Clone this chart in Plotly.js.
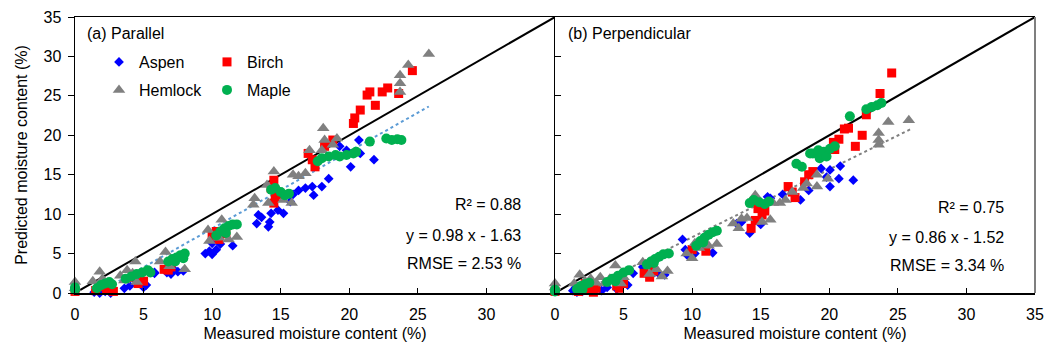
<!DOCTYPE html>
<html>
<head>
<meta charset="utf-8">
<script src="https://cdn.plot.ly/plotly-3.0.1.min.js"></script>
<style>html,body{margin:0;padding:0;background:#fff;}#chart{width:1046px;height:350px;}</style>
</head>
<body>
<div id="chart"></div>
<script>
// ---------- (a) Parallel ----------
const aspenParX = [1.4,1.8,2.2,2.6,1.6,2.4, 3.6,4.0,5.2,5.0,5.8,4.5, 6.7,7.0,7.5,7.9,7.2,5.8, 9.5,9.8,10.0,10.3,10.6,11.5,10.0, 13.37,13.25,14.2,14.1,14.3,15.2,15.7,14.8,13.6, 16.8,17.3,17.4,18.0,18.5,15.9,16.3, 20.7,20.8,20.1,21.8,19.8,19.3];
const aspenParY = [0.1,0.0,0.2,0.0,0.5,0.4, 0.6,0.9,1.0,0.7,2.6,1.5, 2.6,2.4,2.7,2.8,3.0,2.5, 5.0,5.3,4.9,5.5,6.2,6.0,6.3, 9.9,8.8,9.0,8.4,10.1,10.1,11.6,10.5,9.6, 13.3,13.5,12.4,13.5,14.5,12.5,13.0, 19.4,17.7,16.0,16.9,18.1,18.6];

const birchParX = [0, 1.5,1.9,2.3,2.8,2.0, 4.6,5.0,4.3, 6.5,7.0,6.8, 10.0,10.5,11.0,10.3, 14.5,14.3,14.6,14.5,15.0, 17.0,17.3,17.5,18.2,18.8, 20.3,20.4,20.8,21.3,21.5,21.9,22.4,22.8,23.6,24.6];
const birchParY = [0.2, 0.3,0.8,0.5,0.2,1.2, 1.2,1.5,2.0, 3.0,3.3,2.9, 7.2,6.8,7.5,7.8, 14.3,13.3,12.2,11.4,12.5, 17.7,16.9,16.0,18.6,19.4, 21.5,22.2,23.2,25.1,25.5,23.8,25.5,26.0,25.3,28.2];

const hemlockParX = [0,0, 1.8,1.3,2.0,2.5,1.6, 3.3,3.6,3.8,4.4,4.2,4.5, 6.6,6.2,6.9,7.4,8.0, 9.7,10.7,9.8,10.5,11.2,11.8, 13.0,13.1,14.0,14.1,14.5,15.2,15.8,15.9,16.3,16.8, 17.1,18.0,18.1,18.2,19.1,18.8, 23.7,23.7,23.7,24.3,25.8];
const hemlockParY = [1.4,0.6, 2.7,1.5,1.8,1.2,0.9, 2.2,1.6,2.9,4.0,2.5,1.4, 5.2,4.0,3.4,4.4,3.0, 8.0,9.3,6.6,7.0,6.8,7.1, 11.2,12.0,13.7,11.4,15.4,11.8,11.4,15.0,14.8,15.2, 18.1,18.1,20.9,19.4,19.6,18.8, 25.5,26.6,27.6,28.9,30.3];

const mapleParX = [0,0, 1.6,1.9,2.2,2.5,2.7, 3.7,4.1,4.5,4.9,5.3,5.5, 6.8,7.1,7.4,7.7,8.0,7.3,7.9, 10.3,10.6,10.9,11.2,11.5,11.8,11.0, 14.3,14.6,15.0,15.3,15.6, 17.7,18.0,18.5,19.0,19.3,19.8,20.3,20.5, 21.5,22.7,23.1,23.5,23.8];
const mapleParY = [0.7,0.4, 0.6,1.0,1.2,1.4,1.1, 1.8,2.1,2.4,2.6,2.9,2.6, 4.0,4.3,4.5,4.8,5.0,4.0,4.4, 7.3,7.8,8.2,8.5,8.7,8.7,7.6, 13.1,13.3,12.8,12.4,12.6, 16.7,17.1,17.3,17.5,17.3,17.5,17.7,17.9, 19.2,19.6,19.4,19.5,19.4];

// ---------- (b) Perpendicular ----------
const aspenPerX = [1.3,1.5,1.6,2.0, 3.4,3.8,5.3,5.7,4.5, 6.4,7.5,8.0,7.0, 9.3,9.5,9.7,10.2,11.5,10.8, 13.25,14.2,13.6,15.5,15.7,15.0, 17.9,18.5,19.4,20.05,20.8,20.7,21.75,19.8,20.05,16.6];
const aspenPerY = [0.3,0.7,0.1,0.2, 0.3,0.7,1.0,2.5,0.5, 3.3,2.6,2.3,2.2, 6.8,5.5,4.7,5.0,5.1,6.2, 8.8,7.6,9.0,12.2,12.0,8.7, 11.8,13.0,15.8,15.6,16.1,14.5,14.3,14.7,13.5,12.5];

const birchPerX = [0, 1.7,2.0,2.4,2.8,3.0,2.2, 4.5,5.0,4.7, 6.5,6.9,7.2, 10.0,10.5,11.0,10.8, 14.3,14.5,14.8,15.1,14.6,15.3, 17.0,17.3,17.5,18.2,18.5,18.8, 20.3,20.4,20.7,21.1,21.4,21.9,22.4,22.7,23.7,24.55];
const birchPerY = [0.2, 0.2,0.8,0.4,0.1,0.6,1.2, 0.9,1.2,0.6, 2.5,2.0,2.8, 5.5,6.0,5.3,6.4, 8.2,11.6,10.7,9.9,9.2,10.4, 13.5,12.8,12.1,14.1,15.0,15.4, 19.1,18.2,19.5,20.8,20.9,18.6,20.0,22.6,25.3,27.9];

const hemlockPerX = [0,0, 1.8,1.4,2.6,3.0,3.3,2.2, 3.6,4.4,4.0,4.8,5.0, 6.4,6.9,7.4,7.8,8.2, 9.6,10.0,10.5,11.2,11.8,10.2, 13.0,13.4,14.0,14.6,15.1,15.7,13.6, 15.9,16.4,16.8,17.3,18.1,18.35,19.1,19.1,19.9, 23.6,23.6,23.6,24.3,25.8];
const hemlockPerY = [1.2,0.7, 2.3,1.2,1.8,1.3,2.0,1.5, 1.2,3.5,1.8,1.2,2.0, 3.9,2.4,3.0,2.1,2.8, 5.0,4.4,5.7,6.0,6.2,6.3, 8.8,8.2,9.5,12.4,9.0,9.3,9.4, 11.4,11.4,11.8,12.8,13.3,13.9,13.5,15.0,14.5, 18.8,19.4,20.3,21.7,21.9];

const maplePerX = [0,0, 1.6,1.9,2.2,2.5,2.0, 3.8,4.2,4.6,5.0,5.4,4.4, 6.7,7.0,7.3,7.6,7.9,8.3,7.2, 10.3,10.6,10.9,11.2,11.5,11.8,10.8, 14.2,14.5,14.9,15.3,15.6, 17.6,18.0,18.6,18.8,19.2,19.3,19.6,19.8,20.05,20.4, 21.5,22.7,23.1,23.5,23.8];
const maplePerY = [0.4,0.2, 0.5,0.9,1.1,1.3,0.4, 1.4,1.8,2.2,2.6,2.9,1.5, 3.6,4.0,4.3,4.6,4.9,5.0,3.8, 6.0,6.6,7.0,7.4,7.7,7.9,6.4, 11.4,11.8,11.5,11.3,11.6, 16.4,16.0,17.7,17.7,18.1,17.1,17.9,17.3,18.3,18.6, 22.4,23.3,23.6,23.8,24.1];

// reference 1:1 line and fitted trend lines (end points)
const oneToOneX = [0, 35];
const oneToOneY = [0, 35];
const trendParX = [1.66, 25.8];
const trendParY = [0, 23.65];
const trendPerX = [1.77, 25.9];
const trendPerY = [0, 20.75];

const speciesNames = ['Aspen', 'Birch', 'Hemlock', 'Maple'];
const panelLabels = ['(a) Parallel', '(b) Perpendicular'];
const statsPar = ['R² = 0.88', 'y = 0.98 x - 1.63', 'RMSE = 2.53 %'];
const statsPer = ['R² = 0.75', 'y = 0.86 x - 1.52', 'RMSE = 3.34 %'];
const xTitle = 'Measured moisture content (%)';
const yTitle = 'Predicted moisture content (%)';

const FONT = 'Liberation Sans, Arial, sans-serif';
const styles = [
  {symbol: 'diamond', size: 7.5, color: '#0000FF'},
  {symbol: 'square', size: 9, color: '#FF0000'},
  {symbol: 'triangle-up', size: 11, color: '#808080'},
  {symbol: 'circle', size: 10, color: '#00B050'}
];
const parData = [[aspenParX, aspenParY], [birchParX, birchParY], [hemlockParX, hemlockParY], [mapleParX, mapleParY]];
const perData = [[aspenPerX, aspenPerY], [birchPerX, birchPerY], [hemlockPerX, hemlockPerY], [maplePerX, maplePerY]];
const legendIds = ['legend', 'legend', 'legend2', 'legend2'];

const traces = [];
traces.push({x: oneToOneX, y: oneToOneY, xaxis: 'x', yaxis: 'y', mode: 'lines', line: {color: '#000', width: 2}, showlegend: false, hoverinfo: 'skip'});
traces.push({x: oneToOneX, y: oneToOneY, xaxis: 'x2', yaxis: 'y2', mode: 'lines', line: {color: '#000', width: 2}, showlegend: false, hoverinfo: 'skip'});
traces.push({x: trendParX, y: trendParY, xaxis: 'x', yaxis: 'y', mode: 'lines', line: {color: '#5B9BD5', width: 2, dash: 'dot'}, showlegend: false, hoverinfo: 'skip'});
traces.push({x: trendPerX, y: trendPerY, xaxis: 'x2', yaxis: 'y2', mode: 'lines', line: {color: '#808080', width: 2, dash: 'dot'}, showlegend: false, hoverinfo: 'skip'});

speciesNames.forEach((name, i) => {
  traces.push({
    x: parData[i][0], y: parData[i][1], xaxis: 'x', yaxis: 'y',
    type: 'scatter', mode: 'markers', name: name, legend: legendIds[i],
    cliponaxis: false,
    marker: {symbol: styles[i].symbol, size: styles[i].size, color: styles[i].color, line: {width: 0}}
  });
});
speciesNames.forEach((name, i) => {
  traces.push({
    x: perData[i][0], y: perData[i][1], xaxis: 'x2', yaxis: 'y2',
    type: 'scatter', mode: 'markers', name: name, showlegend: false,
    cliponaxis: false,
    marker: {symbol: styles[i].symbol, size: styles[i].size, color: styles[i].color, line: {width: 0}}
  });
});

const tickFont = {family: FONT, size: 16, color: '#000'};
const baseX = {
  range: [0, 35], showgrid: false, zeroline: false, showline: true, linecolor: '#000', linewidth: 1.5,
  mirror: true, ticks: 'inside', ticklen: 5, tickwidth: 1, tickcolor: '#000', tickfont: tickFont,
  ticklabelstandoff: 6, fixedrange: true,
  title: {text: xTitle, font: {family: FONT, size: 16, color: '#000'}, standoff: 6}
};
const baseY = {
  range: [0, 35], showgrid: false, zeroline: false, showline: true, linecolor: '#000', linewidth: 1.5,
  tickvals: [0,5,10,15,20,25,30,35], tickfont: tickFont, tickwidth: 1, tickcolor: '#000', ticklen: 6, fixedrange: true
};

const annotations = [];
annotations.push({xref: 'paper', yref: 'paper', x: (85-75)/960, y: (293-33)/276, xanchor: 'left', yanchor: 'middle', text: panelLabels[0], showarrow: false, font: {family: FONT, size: 16, color: '#000'}});
annotations.push({xref: 'paper', yref: 'paper', x: (566-75)/960, y: (293-33)/276, xanchor: 'left', yanchor: 'middle', text: panelLabels[1], showarrow: false, font: {family: FONT, size: 16, color: '#000'}});
const statYPar = [204.5, 235.5, 263];
const statYPer = [207.5, 237.5, 265.5];
statsPar.forEach((t, i) => annotations.push({xref: 'paper', yref: 'paper', x: (523-75)/960, y: (293-statYPar[i])/276, xanchor: 'right', yanchor: 'middle', text: t, showarrow: false, font: {family: FONT, size: 16, color: '#000'}}));
statsPer.forEach((t, i) => annotations.push({xref: 'paper', yref: 'paper', x: (1006-75)/960, y: (293-statYPer[i])/276, xanchor: 'right', yanchor: 'middle', text: t, showarrow: false, font: {family: FONT, size: 16, color: '#000'}}));

const layout = {
  width: 1046, height: 350,
  margin: {l: 75, r: 11, t: 17, b: 57},
  paper_bgcolor: '#fff', plot_bgcolor: '#fff',
  font: {family: FONT, size: 16, color: '#000'},
  hovermode: false,
  xaxis: Object.assign({}, baseX, {domain: [0, 0.5], anchor: 'y', tickvals: [0,5,10,15,20,25,30]}),
  xaxis2: Object.assign({}, baseX, {domain: [0.5, 1], anchor: 'y2', tickvals: [0,5,10,15,20,25,30,35]}),
  yaxis: Object.assign({}, baseY, {anchor: 'x', ticks: 'outside', ticklabelstandoff: 3,
    title: {text: yTitle, font: {family: FONT, size: 16, color: '#000'}, standoff: 12}}),
  yaxis2: Object.assign({}, baseY, {anchor: 'x2', ticks: 'inside', showticklabels: false}),
  legend: {orientation: 'h', x: (99-75)/960, y: (293-62)/276, xanchor: 'left', yanchor: 'middle',
    bgcolor: 'rgba(0,0,0,0)', font: {family: FONT, size: 16, color: '#000'}, entrywidth: 63, entrywidthmode: 'pixels', itemclick: false, itemdoubleclick: false},
  legend2: {orientation: 'h', x: (99-75)/960, y: (293-90)/276, xanchor: 'left', yanchor: 'middle',
    bgcolor: 'rgba(0,0,0,0)', font: {family: FONT, size: 16, color: '#000'}, entrywidth: 63, entrywidthmode: 'pixels', itemclick: false, itemdoubleclick: false},
  shapes: [
    {type: 'line', xref: 'paper', yref: 'paper', x0: 1, x1: 1, y0: 0, y1: 1, line: {color: '#7F7F7F', width: 2}}
  ],
  annotations: annotations
};

Plotly.newPlot('chart', traces, layout, {displayModeBar: false, staticPlot: true});
</script>
</body>
</html>
